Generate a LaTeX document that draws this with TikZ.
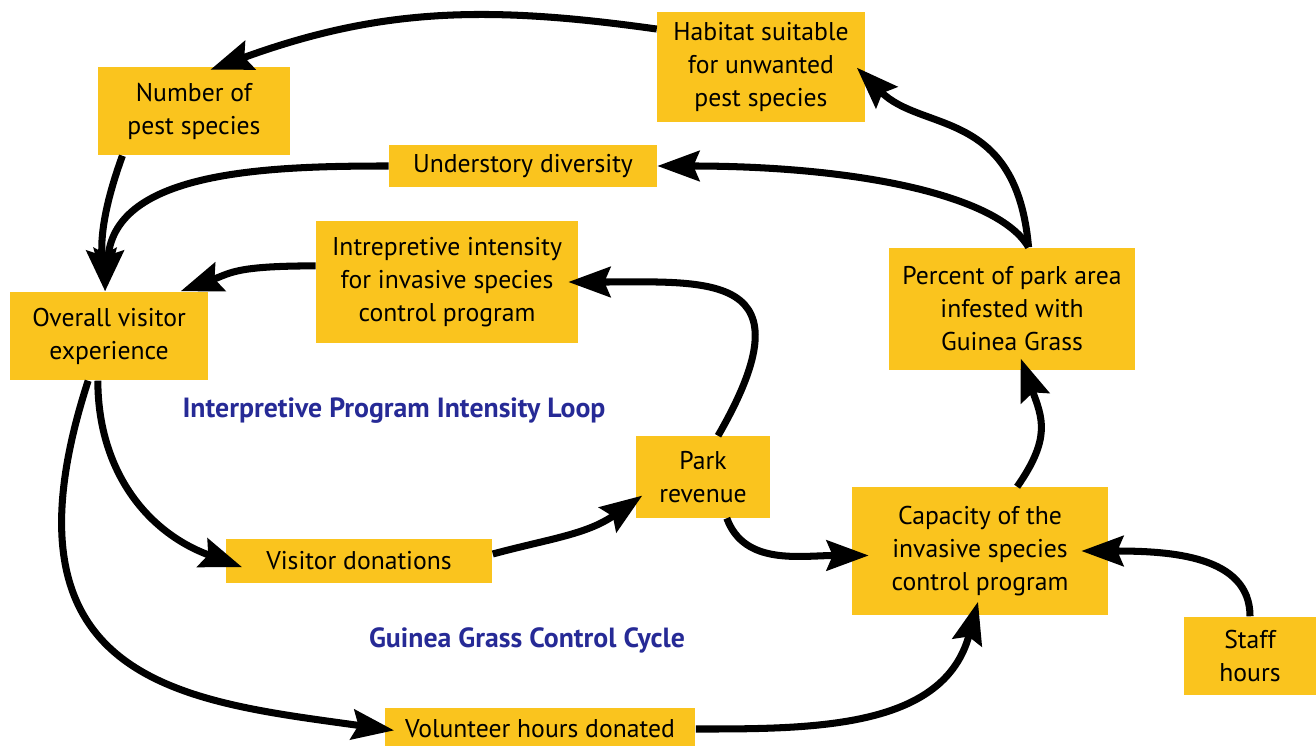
\documentclass[tikz,border=0pt]{standalone}
\usepackage{fontspec}
\setmainfont{PT Sans}
\usetikzlibrary{arrows.meta}
\definecolor{boxyellow}{RGB}{250,196,30}
\definecolor{loopblue}{RGB}{38,42,150}
\tikzstyle{factor}=[fill=boxyellow,%
                    rectangle,%
                    inner sep=0pt,%
                    align=center,%
                    font=\fontsize{7.3}{9.4}\selectfont]
\tikzstyle{looplabel}=[text=loopblue, font=\bfseries\fontsize{7.9}{9.4}\selectfont]
\tikzstyle{link}=[-{Stealth[length=0.42cm,width=0.3cm,inset=0.06cm]}, line width=2pt]
\begin{document}
\begin{tikzpicture}[x=0.01cm,y=0.01cm]
            \useasboundingbox (0,0) rectangle (1316,-746);
            \node[factor, minimum width=2.07cm, minimum height=1.10cm] (hab) at (761,-67) {Habitat suitable\\for unwanted\\pest species};
            \node[factor, minimum width=1.92cm, minimum height=0.88cm] (num) at (194,-111) {Number of\\pest species};
            \node[factor, minimum width=2.67cm, minimum height=0.41cm] (und) at (523,-166) {Understory diversity};
            \node[factor, minimum width=2.61cm, minimum height=1.21cm] (intr) at (447,-282) {Intrepretive intensity\\for invasive species\\control program};
            \node[factor, minimum width=1.98cm, minimum height=0.88cm] (over) at (109,-336) {Overall visitor\\experience};
            \node[factor, minimum width=2.45cm, minimum height=1.22cm] (perc) at (1012,-309) {Percent of park area\\infested with\\Guinea Grass};
            \node[factor, minimum width=1.33cm, minimum height=0.81cm] (park) at (703,-477) {Park\\revenue};
            \node[factor, minimum width=2.55cm, minimum height=1.27cm] (cap) at (980,-551) {Capacity of the\\invasive species\\control program};
            \node[factor, minimum width=2.66cm, minimum height=0.43cm] (vis) at (359,-561) {Visitor donations};
            \node[factor, minimum width=1.31cm, minimum height=0.78cm] (staff) at (1250,-656) {Staff\\hours};
            \node[factor, minimum width=3.10cm, minimum height=0.42cm] (vol) at (540,-729) {Volunteer hours donated};
            \node[looplabel] (loopa) at (394,-411) {Interpretive Program Intensity Loop};
            \node[looplabel] (loopb) at (527,-640) {Guinea Grass Control Cycle};
            \draw [link, shorten >=-0.1cm] (hab.160) to[out=172,in=20] (num.60);
            \draw [link] (num.-148) to[out=-110,in=95] (over.95);
            \draw [link] (und.west) to[out=180,in=85] (over.95);
            \draw [link] (perc.75) to[out=120,in=0,out distance=0.6cm,in distance=2cm] (und.east);
            \draw [link, shorten >=-0.12cm] (perc.75) to[out=95,in=-45,out distance=1.4cm,in distance=0.8cm] (hab.-5);
            \draw [link] (intr.173) to[out=180,in=20,out distance=0.8cm] (over.32);
            \draw [link, shorten >=-0.1cm] (park.70) to[out=60,in=0,out distance=1.9cm,in distance=1.3cm] (intr.east);
            \draw [link, shorten >=-0.18cm] (over.-104) to[out=-90,in=160] (vis.west);
            \draw [link, shorten >=-0.08cm] (vis.3) to[out=15,in=215] (park.199);
            \draw [link, shorten >=-0.17cm] (park.-60) to[out=-70,in=180] (cap.182);
            \draw [link, shorten >=-0.13cm] (cap.60) to[out=55,in=-70,out distance=0.6cm,in distance=0.5cm] (perc.-78);
            \draw [link, shorten >=-0.27cm] (staff.north) to[out=90,in=0] (cap.east);
            \draw [link, shorten >=-0.1cm] (over.-115) to[out=-108,in=172,out distance=3.2cm,in distance=2cm] (vol.west);
            \draw [link, shorten >=-0.14cm] (vol.east) to[out=0,in=-105] (cap.-95);
  \end{tikzpicture}
\end{document}
